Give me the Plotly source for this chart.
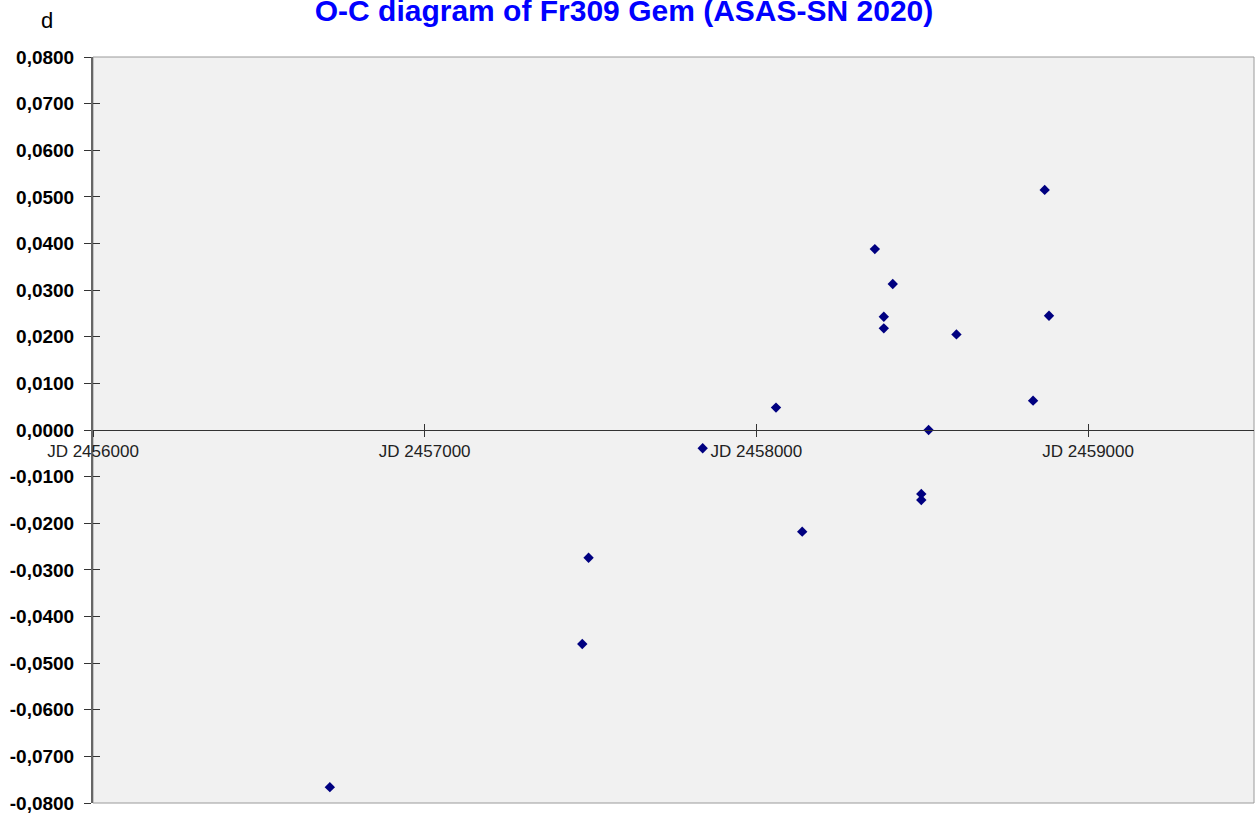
import plotly.graph_objects as go

# O-C data (JD, O-C in days)
jd = [2456714, 2457475, 2457494, 2457838, 2458059, 2458138, 2458357, 2458384,
      2458384, 2458411, 2458497, 2458497, 2458519, 2458603, 2458834, 2458869, 2458882]
oc = [-0.0766, -0.0459, -0.0274, -0.0039, 0.0048, -0.0218, 0.0388, 0.0243,
      0.0218, 0.0313, -0.0137, -0.0150, 0.0000, 0.0205, 0.0063, 0.0515, 0.0245]

x_tickvals = [2456000, 2457000, 2458000, 2459000]
x_ticktext = ["JD 2456000", "JD 2457000", "JD 2458000", "JD 2459000"]
y_tickvals = [0.08, 0.07, 0.06, 0.05, 0.04, 0.03, 0.02, 0.01, 0.0,
              -0.01, -0.02, -0.03, -0.04, -0.05, -0.06, -0.07, -0.08]
y_ticktext = ["0,0800", "0,0700", "0,0600", "0,0500", "0,0400", "0,0300", "0,0200",
              "0,0100", "0,0000", "-0,0100", "-0,0200", "-0,0300", "-0,0400",
              "-0,0500", "-0,0600", "-0,0700", "-0,0800"]

XR = [2456000, 2459500]
YR = [-0.08, 0.08]
FONT = "Arial, Liberation Sans, sans-serif"

fig = go.Figure()
fig.add_trace(go.Scatter(x=jd, y=oc, mode="markers",
                         marker=dict(symbol="diamond", size=8, color="#000080"),
                         showlegend=False, hoverinfo="x+y"))
# empty helper trace to realise the overlay axes (inner tick halves)
fig.add_trace(go.Scatter(x=[], y=[], xaxis="x2", yaxis="y2", showlegend=False))

fig.update_layout(
    width=1255, height=816,
    margin=dict(l=93, r=1, t=57, b=13),
    paper_bgcolor="white", plot_bgcolor="#F1F1F1",
    font=dict(family=FONT),
    title=dict(text="<b>O-C diagram of Fr309 Gem (ASAS-SN 2020)</b>",
               font=dict(family=FONT, size=30, color="#0000FF"),
               x=624 / 1255, xanchor="center", y=1 - 10.5 / 816, yanchor="middle",
               xref="container", yref="container"),
    xaxis=dict(range=XR, anchor="free", position=0.5, showgrid=False, zeroline=False,
               showline=True, linecolor="#333333", linewidth=1,
               ticks="outside", ticklen=6, tickcolor="#333333", tickwidth=1,
               tickvals=x_tickvals, ticktext=x_ticktext,
               tickfont=dict(family=FONT, size=17, color="#222222")),
    xaxis2=dict(range=XR, overlaying="x", anchor="free", position=0.5,
                showgrid=False, zeroline=False, showline=False,
                ticks="inside", ticklen=6, tickcolor="#333333", tickwidth=1,
                tickvals=x_tickvals, showticklabels=False),
    yaxis=dict(range=YR, showgrid=False, zeroline=False,
               showline=True, linecolor="#666666", linewidth=2,
               ticks="outside", ticklen=7, tickcolor="#333333", tickwidth=1,
               tickvals=y_tickvals, ticktext=y_ticktext, ticklabelstandoff=6,
               tickfont=dict(family=FONT, size=19, color="#000000", weight="bold")),
    yaxis2=dict(range=YR, overlaying="y", anchor="x2", side="left",
                showgrid=False, zeroline=False, showline=False,
                ticks="inside", ticklen=7, tickcolor="#333333", tickwidth=1,
                tickvals=y_tickvals, showticklabels=False),
    shapes=[dict(type="rect", xref="paper", yref="paper", x0=0, x1=1, y0=0, y1=1,
                 line=dict(color="#9A9A9A", width=1), layer="below")],
    annotations=[dict(text="d", xref="paper", yref="paper",
                      x=(46.5 - 93) / 1161, y=1 + (57 - 21) / 746,
                      xanchor="center", yanchor="middle", showarrow=False,
                      font=dict(family=FONT, size=22, color="#000000"))],
)

fig.write_html("out.html",
               config={"displayModeBar": False},
               post_script="document.body.style.margin='0px';"
                           "document.body.style.overflow='hidden';")
